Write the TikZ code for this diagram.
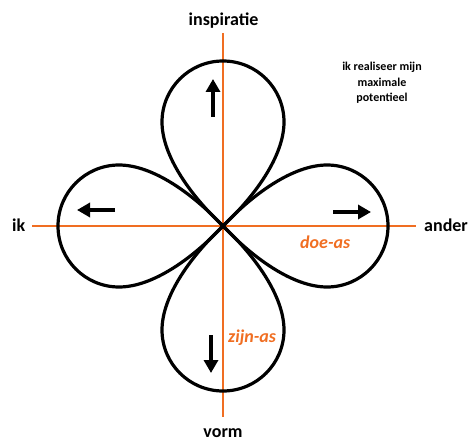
\documentclass[tikz,border=0pt]{standalone}
\usepackage{fontspec}
\setmainfont{Carlito}
\usetikzlibrary{arrows.meta}
\definecolor{axisorange}{RGB}{240,110,34}
\begin{document}
\begin{tikzpicture}[x=1pt,y=-1pt,
  axis/.style={draw=axisorange,line width=2pt},
  petal/.style={draw=black,line width=3.2pt},
  dirarrow/.style={draw=black,line width=4pt,-{Triangle[length=13pt,width=14pt]}},
  lbl/.style={font=\fontsize{18}{21}\selectfont\bfseries,inner sep=0pt},
  axlbl/.style={font=\fontsize{18}{21}\selectfont\bfseries\itshape,text=axisorange,inner sep=0pt},
  note/.style={font=\fontsize{12}{15.5}\selectfont\bfseries,align=center,inner sep=0pt}]
\useasboundingbox (0,0) rectangle (471,441);
% axis ends
\coordinate (axL) at (32,226);
\coordinate (axR) at (416,226);
\coordinate (axT) at (223,33);
\coordinate (axB) at (223,417);
\coordinate (C) at (223,226);
\draw[axis] (axL) -- (axR);
\draw[axis] (axT) -- (axB);
% petals
\foreach \r in {0,90,180,270}{
  \draw[petal,shift={(C)},rotate=\r]
    (0,0) .. controls (30,32) and (70,61) .. (104,61)
    arc[start angle=90,end angle=-90,radius=61]
    .. controls (70,-61) and (30,-32) .. (0,0);
}
% arrows
\coordinate (upA) at (213,117);
\coordinate (upB) at (213,79);
\coordinate (leftA) at (115,210);
\coordinate (leftB) at (77,210);
\coordinate (rightA) at (333,212);
\coordinate (rightB) at (371,212);
\coordinate (downA) at (211,335);
\coordinate (downB) at (211,373);
\draw[dirarrow] (upA) -- (upB);
\draw[dirarrow] (leftA) -- (leftB);
\draw[dirarrow] (rightA) -- (rightB);
\draw[dirarrow] (downA) -- (downB);
% labels
\node[lbl,anchor=base] (insp) at (223.5,26) {inspiratie};
\node[lbl,anchor=base] (vorm) at (223,437) {vorm};
\node[lbl,anchor=base west] (ik) at (12,231) {ik};
\node[lbl,anchor=base west] (ander) at (424,231) {ander};
\node[axlbl,anchor=base west] (doe) at (300,248) {doe-as};
\node[axlbl,anchor=base west] (zijn) at (228,342) {zijn-as};
\node[note,anchor=north] (goal) at (382,62) {ik realiseer mijn\\maximale\\potentieel};
\end{tikzpicture}
\end{document}
